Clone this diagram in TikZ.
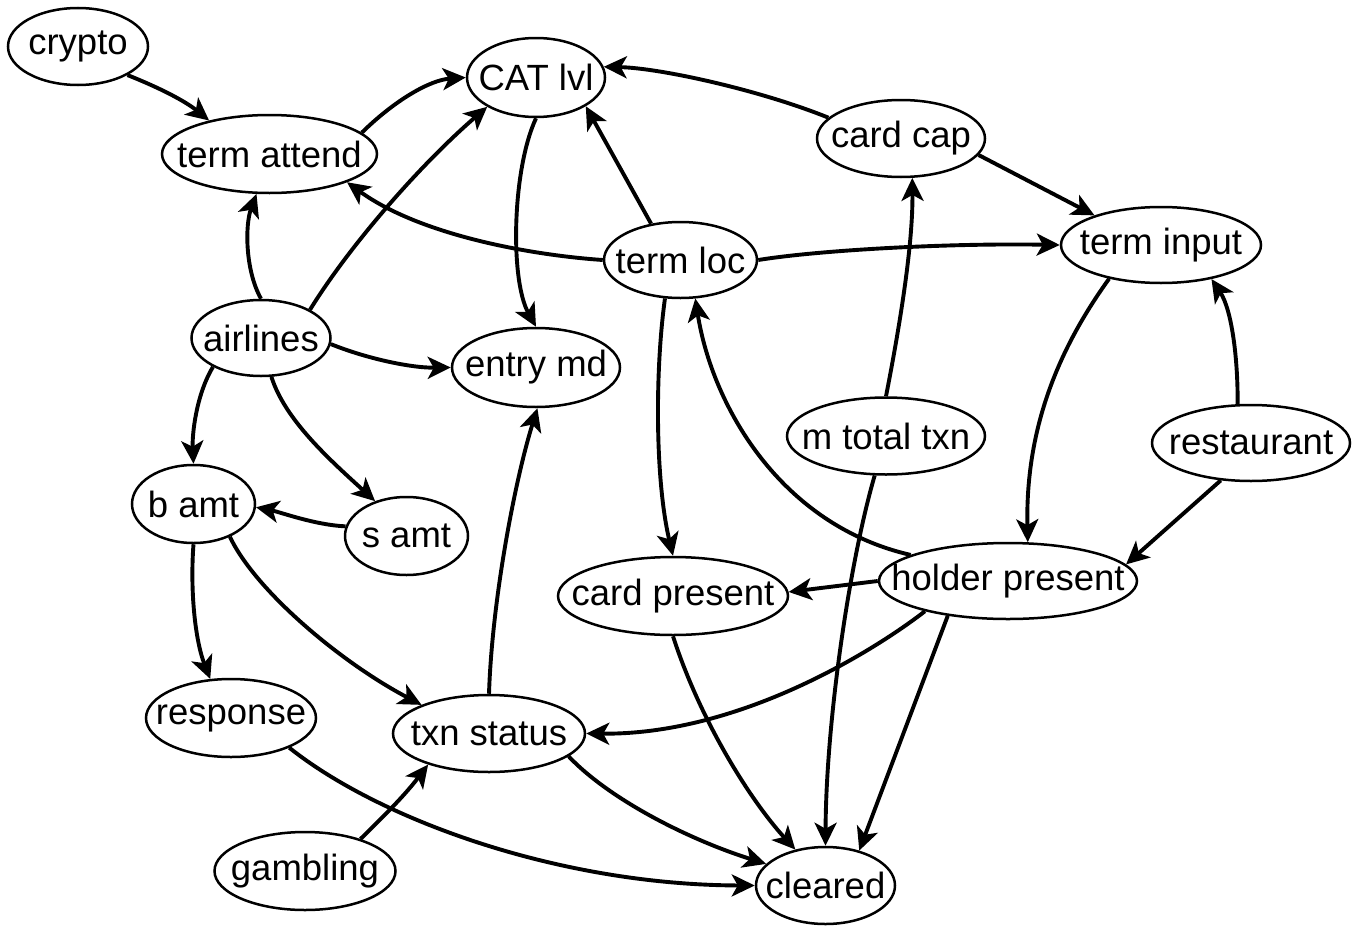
\documentclass[tikz,border=0pt]{standalone}
\usepackage{fontspec}
\setmainfont{Liberation Sans}
\usetikzlibrary{shapes.geometric,arrows.meta}
\tikzset{
  gn/.style={ellipse, draw, line width=2.5pt, inner sep=0pt, fill=white},
  gl/.style={font=\fontsize{36.5}{40}\selectfont, inner sep=0pt},
  edge/.style={line width=3.9pt, -{Stealth[length=23pt,width=22pt,inset=6pt]}},
}
\newcommand\gnode[5]{\node[gn, minimum width=#4pt, minimum height=#5pt] (#1) at (#2) {};
  \node[gl] at (#1.center) {#3};}
\begin{document}
\begin{tikzpicture}[x=1pt,y=-1pt]
\useasboundingbox (0,0) rectangle (1357,926);
% nodes
\gnode{crypto}{78,46.5}{crypto}{140}{77}
\gnode{tatt}{269.5,154}{term attend}{215}{78}
\gnode{cat}{536,77.5}{CAT lvl}{138}{79}
\gnode{ccap}{901,138.5}{card cap}{168}{77}
\gnode{tloc}{680.5,260}{term loc}{153}{76}
\gnode{tinp}{1161,245}{term input}{200}{76}
\gnode{air}{261,338}{airlines}{139}{76}
\gnode{emd}{536,367.5}{entry md}{168}{79}
\gnode{mtot}{886,436}{m total txn}{198}{77}
\gnode{rest}{1251,443}{restaurant}{198}{76}
\gnode{bamt}{193.5,504}{b amt}{123}{78}
\gnode{samt}{406.5,536}{s amt}{123}{78}
\gnode{cpres}{673,596}{card present}{230}{78}
\gnode{hpres}{1008,581}{holder present}{258}{76}
\gnode{resp}{231,718}{response}{170}{78}
\gnode{txn}{489,733.5}{txn status}{192}{77}
\gnode{gamb}{305,871}{gambling}{181}{78}
\gnode{clr}{825.5,885.5}{cleared}{139}{77}
% edges
\draw[edge] (crypto.-30) .. controls (160,88) and (185,101) .. (tatt.151);
\draw[edge] (tatt.13) .. controls (395,100) and (430,80) .. (cat.180);
\draw[edge] (air.90) .. controls (245,270) and (245,225) .. (tatt.-108);
\draw[edge] (air.30) .. controls (350,245) and (420,165) .. (cat.211);
\draw[edge] (air.-5) .. controls (365,358) and (410,368) .. (emd.180);
\draw[edge] (air.211) .. controls (196,395) and (192,435) .. (bamt.90);
\draw[edge] (air.-75) .. controls (285,420) and (330,460) .. (samt.132);
\draw[edge] (samt.171) .. controls (315,525) and (280,512) .. (bamt.-3);
\draw[edge] (bamt.-90) .. controls (190,590) and (195,640) .. (resp.118);
\draw[edge] (bamt.-42) .. controls (255,590) and (340,662) .. (txn.157);
\draw[edge] (cat.-90) .. controls (512,170) and (510,280) .. (emd.90);
\draw[edge] (tloc.129) -- (cat.-30);
\draw[edge] (tloc.180) .. controls (530,255) and (420,235) .. (tatt.-20);
\draw[edge] (tloc.0) .. controls (820,250) and (950,243) .. (tinp.180);
\draw[edge] (tloc.-112) .. controls (655,370) and (655,480) .. (cpres.90);
\draw[edge] (ccap.164) .. controls (760,90) and (660,68) .. (cat.9);
\draw[edge] (ccap.-12) -- (tinp.156);
\draw[edge] (mtot.90) .. controls (897,340) and (913,250) .. (ccap.-74);
\draw[edge] (mtot.-106) .. controls (850,560) and (826,720) .. (clr.90);
\draw[edge] (tinp.213) .. controls (1065,340) and (1025,420) .. (hpres.63);
\draw[edge] (rest.109) .. controls (1238,360) and (1232,310) .. (tinp.-34);
\draw[edge] (rest.231) -- (hpres.8);
\draw[edge] (hpres.165) .. controls (780,525) and (712,405) .. (tloc.-69);
\draw[edge] (hpres.180) -- (cpres.2);
\draw[edge] (hpres.200) .. controls (875,650) and (740,735) .. (txn.0);
\draw[edge] (hpres.210) -- (clr.46);
\draw[edge] (cpres.-90) .. controls (700,720) and (750,800) .. (clr.130);
\draw[edge] (txn.-16) .. controls (610,800) and (690,840) .. (clr.160);
\draw[edge] (txn.90) .. controls (492,600) and (515,480) .. (emd.-88);
\draw[edge] (resp.-27) .. controls (380,820) and (560,885) .. (clr.180);
\draw[edge] (gamb.30) .. controls (385,815) and (405,795) .. (txn.207);
\end{tikzpicture}
\end{document}
